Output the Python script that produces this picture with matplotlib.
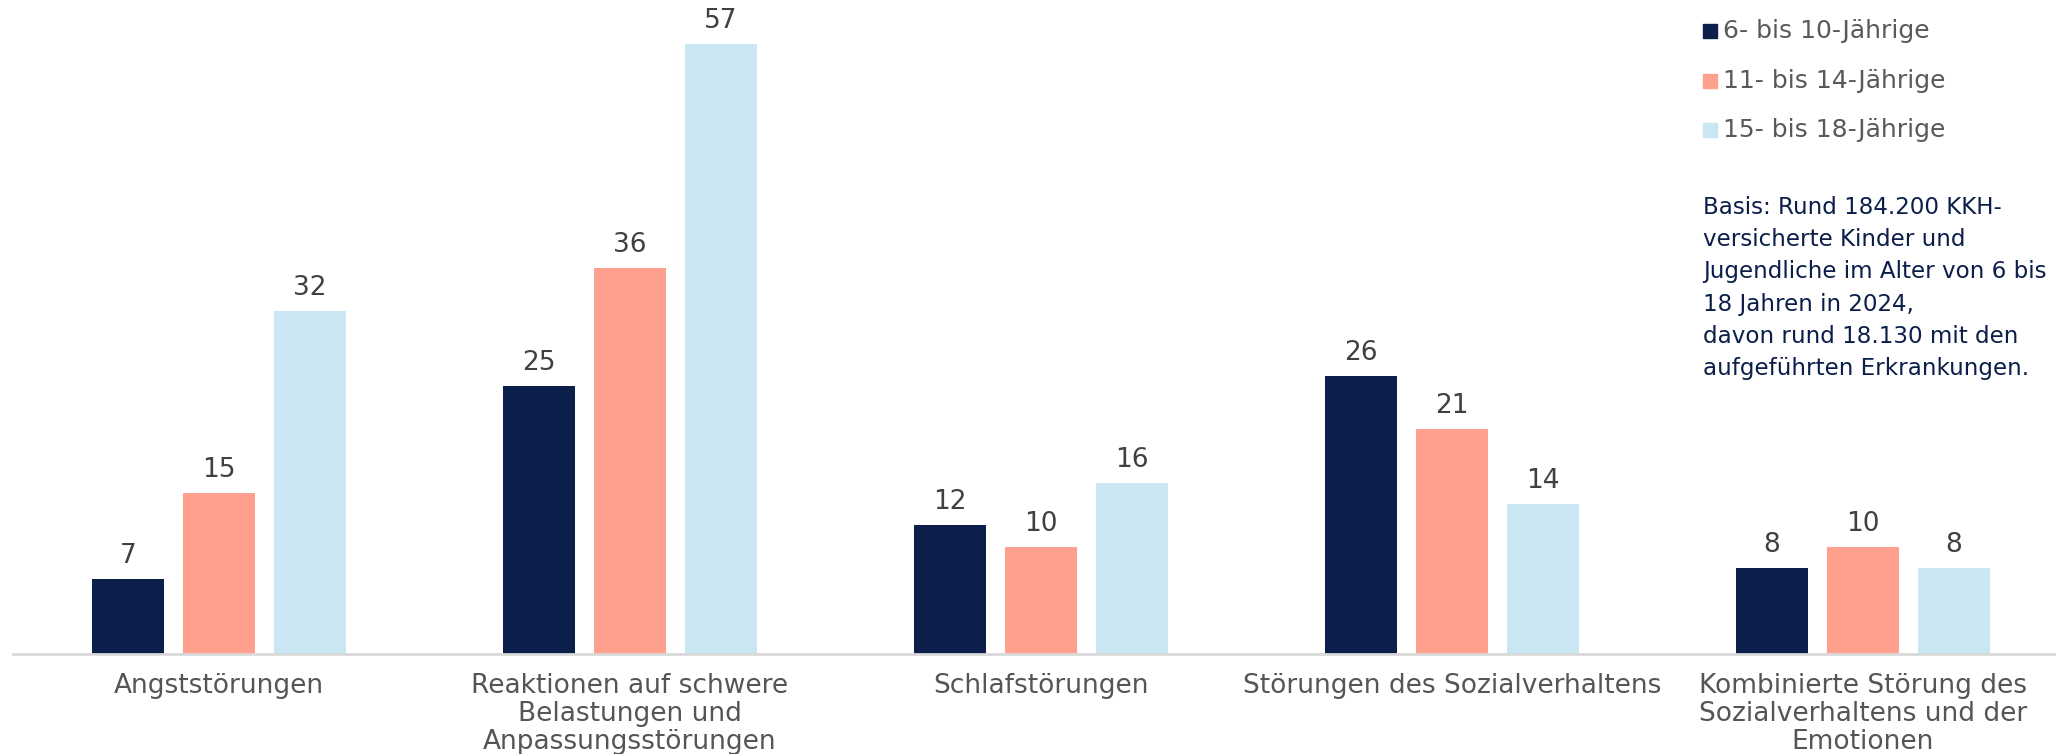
import matplotlib
matplotlib.use("Agg")
import matplotlib.pyplot as plt
import matplotlib.patches as mpatches
import numpy as np

categories = [
    "Angststörungen",
    "Reaktionen auf schwere\nBelastungen und\nAnpassungsstörungen",
    "Schlafstörungen",
    "Störungen des Sozialverhaltens",
    "Kombinierte Störung des\nSozialverhaltens und der\nEmotionen",
]
series_names = ["6- bis 10-Jährige", "11- bis 14-Jährige", "15- bis 18-Jährige"]
age_6_10 = [7, 25, 12, 26, 8]
age_11_14 = [15, 36, 10, 21, 10]
age_15_18 = [32, 57, 16, 14, 8]
note = ("Basis: Rund 184.200 KKH-\nversicherte Kinder und\nJugendliche im Alter von 6 bis\n"
        "18 Jahren in 2024,\ndavon rund 18.130 mit den\naufgeführten Erkrankungen.")

colors = ["#0c1f4a", "#ffa08f", "#c9e6f2"]
label_grey = "#404040"
cat_grey = "#555555"
W, H = 2056, 754

fig = plt.figure(figsize=(W / 100, H / 100), dpi=100, facecolor="white")
ax = fig.add_axes([13 / W, (H - 654) / H, 1 - 13 / W, 654 / H])

x = np.arange(len(categories))
bar_w = 72 / 411
step = 91 / 411
for i, (vals, c) in enumerate(zip([age_6_10, age_11_14, age_15_18], colors)):
    bars = ax.bar(x + (i - 1) * step, vals, width=bar_w, color=c, zorder=2)
    for b, v in zip(bars, vals):
        ax.annotate(str(v), (b.get_x() + b.get_width() / 2, v), xytext=(0, 10),
                    textcoords="offset pixels", ha="center", va="bottom",
                    fontsize=19, color=label_grey)

ax.set_xlim((13 - 219) / 411, (W - 219) / 411)
ax.set_ylim(0, 654 / 10.71)
for s in ["top", "right", "left"]:
    ax.spines[s].set_visible(False)
ax.spines["bottom"].set_color("#d9d9d9")
ax.spines["bottom"].set_linewidth(2)
ax.set_yticks([])
ax.set_xticks(x)
ax.set_xticklabels(categories, fontsize=19, color=cat_grey, linespacing=1.1)
ax.tick_params(axis="x", length=0, pad=14)

# legend
leg_y = [31, 81, 130]
for name, c, yy in zip(series_names, colors, leg_y):
    fig.patches.append(mpatches.Rectangle((1703 / W, (H - yy - 7) / H), 14 / W, 14 / H,
                                          color=c, transform=fig.transFigure))
    fig.text(1723 / W, (H - yy) / H, name, fontsize=18, color="#595959",
             ha="left", va="center")

fig.text(1703 / W, (H - 196) / H, note, fontsize=16.6, color="#0c1f4a",
         ha="left", va="top", linespacing=1.51)

fig.savefig("out.png", dpi=100, facecolor="white")
